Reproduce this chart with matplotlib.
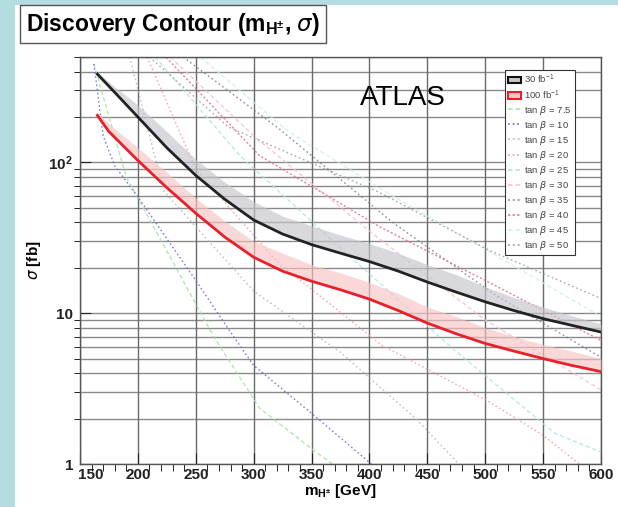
import numpy as np
import matplotlib
matplotlib.use('Agg')
import matplotlib.pyplot as plt
from matplotlib.patches import Patch, Rectangle
from matplotlib.lines import Line2D
from matplotlib.ticker import FixedLocator, NullFormatter, MultipleLocator

plt.rcParams['font.family'] = ['Liberation Sans', 'DejaVu Sans']
plt.rcParams['mathtext.fontset'] = 'custom'
plt.rcParams['mathtext.rm'] = 'Liberation Sans'
plt.rcParams['mathtext.bf'] = 'Liberation Sans:bold'

# Discovery contours (5 sigma) for the two luminosities
mass = [165, 175, 200, 225, 250, 275, 300, 325, 350, 375, 400, 425, 450, 475, 500, 525, 550, 575, 600]
sigma_30 = [385, 320, 200, 125, 82, 57, 41.5, 33.5, 28.5, 25, 22, 19, 16.1, 13.8, 11.9, 10.4, 9.2, 8.3, 7.5]
sigma_30_up = [400, 340, 240, 160, 105, 74, 55, 44, 38, 33, 29, 25, 21, 18, 15, 12.7, 11, 9.6, 8.5]
sigma_100 = [205, 160, 103, 68, 46, 32, 23.5, 19, 16.3, 14.3, 12.4, 10.4, 8.6, 7.3, 6.3, 5.6, 5.0, 4.5, 4.1]
sigma_100_up = [215, 180, 125, 86, 58, 41, 30, 25, 21, 18.5, 16, 13.5, 11, 9.5, 8, 7, 6.2, 5.6, 5.0]

# sigma x BR for fixed tan beta (mass points, cross section points)
tanb = ['7.5', '10', '15', '20', '25', '30', '35', '40', '45', '50']
tb_mass = [
    [162, 190, 230, 265, 305, 349, 372],
    [162, 170, 180, 200, 250, 277, 300, 349, 405],
    [193, 222, 300, 375, 440, 480],
    [208, 250, 320, 411, 501, 550, 585],
    [215, 288, 380, 470, 560, 600],
    [228, 300, 400, 500, 600],
    [239, 322, 420, 510, 600],
    [222, 305, 410, 500, 600],
    [254, 330, 420, 510, 600],
    [210, 278, 409, 504, 600],
]
tb_sigma = [
    [450, 80, 22, 7.1, 2.35, 1.28, 0.95],
    [450, 150, 95, 59, 16.5, 8.1, 4.5, 2.2, 0.95],
    [500, 65, 14, 5.5, 2.0, 0.95],
    [500, 90, 22, 6.1, 2.65, 1.55, 0.95],
    [500, 111, 25, 6.0, 1.6, 1.2],
    [500, 150, 35, 9.0, 3.1],
    [500, 167, 40, 13, 5.1],
    [520, 111, 37, 16.5, 6.6],
    [500, 160, 60, 24, 9.5],
    [500, 172, 63, 26, 12.5],
]
tb_color = ['#a8e0a8', '#6a6ad0', '#b4b4b4', '#f29a9a', '#b0e4e4',
            '#f6c0cc', '#7a7a98', '#ea6a8a', '#cdeeee', '#9a9a9a']
tb_style = [(0, (3, 2)), (0, (1.2, 1.8)), (0, (1.2, 2)), (0, (1.2, 1.8)), (0, (3, 2)),
            (0, (3, 2)), (0, (1.2, 2)), (0, (1.5, 1.5)), (0, (3, 2)), (0, (1.2, 2))]

x_ticks = [150, 200, 250, 300, 350, 400, 450, 500, 550, 600]

fig = plt.figure(figsize=(6.18, 5.07), dpi=100, facecolor='#b4dde2')
fig.patches.append(Rectangle((15 / 618, 0), 1, 502 / 507, transform=fig.transFigure,
                             facecolor='white', edgecolor='none', zorder=-10))

ax = fig.add_axes([80 / 618, 1 - 464 / 507, 521 / 618, 407 / 507])
ax.set_yscale('log')
ax.set_xlim(150, 600)
ax.set_ylim(1, 500)

# grid on every decade step
ygrid = [v * d for d in (1, 10, 100) for v in range(1, 10) if v * d <= 500]
for yv in ygrid:
    ax.axhline(yv, color='#8a8a8a', lw=1.0, zorder=0)
for xv in x_ticks:
    ax.axvline(xv, color='#6a6a6a', lw=1.0, zorder=0)

for m, s, c, ls in zip(tb_mass, tb_sigma, tb_color, tb_style):
    ax.plot(m, s, color=c, ls=ls, lw=1.0, alpha=0.85, zorder=2)

ax.fill_between(mass, sigma_30, sigma_30_up, color='#c4c4cc', alpha=0.65, lw=0, zorder=3)
ax.fill_between(mass, sigma_100, sigma_100_up, color='#f8c4c4', alpha=0.65, lw=0, zorder=3)
ax.plot(mass, sigma_30, color='#222222', lw=2.0, zorder=4)
ax.plot(mass, sigma_100, color='#e8202a', lw=2.0, zorder=4)

ax.set_xticks(x_ticks)
# the 150 label is drawn separately, nudged right of the "1"
ax.set_xticklabels([''] + [str(v) for v in x_ticks[1:]])
ax.xaxis.set_minor_locator(MultipleLocator(10))
ax.yaxis.set_major_locator(FixedLocator([1, 10, 100]))
ax.yaxis.set_minor_locator(FixedLocator(ygrid))
ax.yaxis.set_minor_formatter(NullFormatter())
ax.set_yticklabels(['1', '10', r'$\mathbf{10^2}$'])
ax.tick_params(axis='both', direction='in', labelsize=11, colors='#222222')
ax.tick_params(axis='x', which='major', length=8, pad=3)
ax.tick_params(axis='x', which='minor', length=5)
ax.tick_params(axis='y', which='major', length=8, pad=5)
ax.tick_params(axis='y', which='minor', length=4)
for lab in ax.get_xticklabels() + ax.get_yticklabels():
    lab.set_fontweight('bold')
for sp in ax.spines.values():
    sp.set_color('#555555')
    sp.set_linewidth(1.0)

ax.annotate(str(x_ticks[0]), xy=(x_ticks[0], 1), xycoords='data', xytext=(8, -3.2),
            textcoords='offset points', ha='center', va='top', fontsize=11,
            fontweight='bold', color='#222222', annotation_clip=False)

ax.set_xlabel(r'm$_{\mathregular{H^{\pm}}}$ [GeV]', fontsize=11, fontweight='bold', labelpad=0)
ax.set_ylabel(r'$\sigma$ [fb]', fontsize=11, fontweight='bold', labelpad=4)

ax.text(0.537, 0.899, 'ATLAS', transform=ax.transAxes, fontsize=20, ha='left', va='center', zorder=6)

handles = [Patch(facecolor='#c8c8d0', edgecolor='#111111', lw=1.5, label='30 fb$^{-1}$'),
           Patch(facecolor='#f8c8c0', edgecolor='#e8202a', lw=1.5, label='100 fb$^{-1}$')]
for t, c, ls in zip(tanb, tb_color, tb_style):
    handles.append(Line2D([], [], color=c, ls=ls, lw=1.1, label=r'tan $\beta$ = ' + t))
leg = ax.legend(handles=handles, loc='upper left', bbox_to_anchor=(0.816, 0.968),
                fontsize=6.8, frameon=True, fancybox=False, framealpha=1,
                edgecolor='#333333', handlelength=1.4, handleheight=0.7,
                labelspacing=0.22, borderpad=0.3, handletextpad=0.35, borderaxespad=0)
leg.get_frame().set_linewidth(0.8)
for txt in leg.get_texts():
    txt.set_color('#444444')
leg.set_zorder(7)

fig.text(26 / 618, 1 - 24 / 507, r'Discovery Contour (m$_{\mathregular{H^{\pm}}}$, $\sigma$)',
         fontsize=16.5, fontweight='bold', ha='left', va='center',
         bbox=dict(boxstyle='square,pad=0.25', facecolor='white', edgecolor='#555555', lw=1))

fig.savefig('out.png', dpi=100, facecolor=fig.get_facecolor())
